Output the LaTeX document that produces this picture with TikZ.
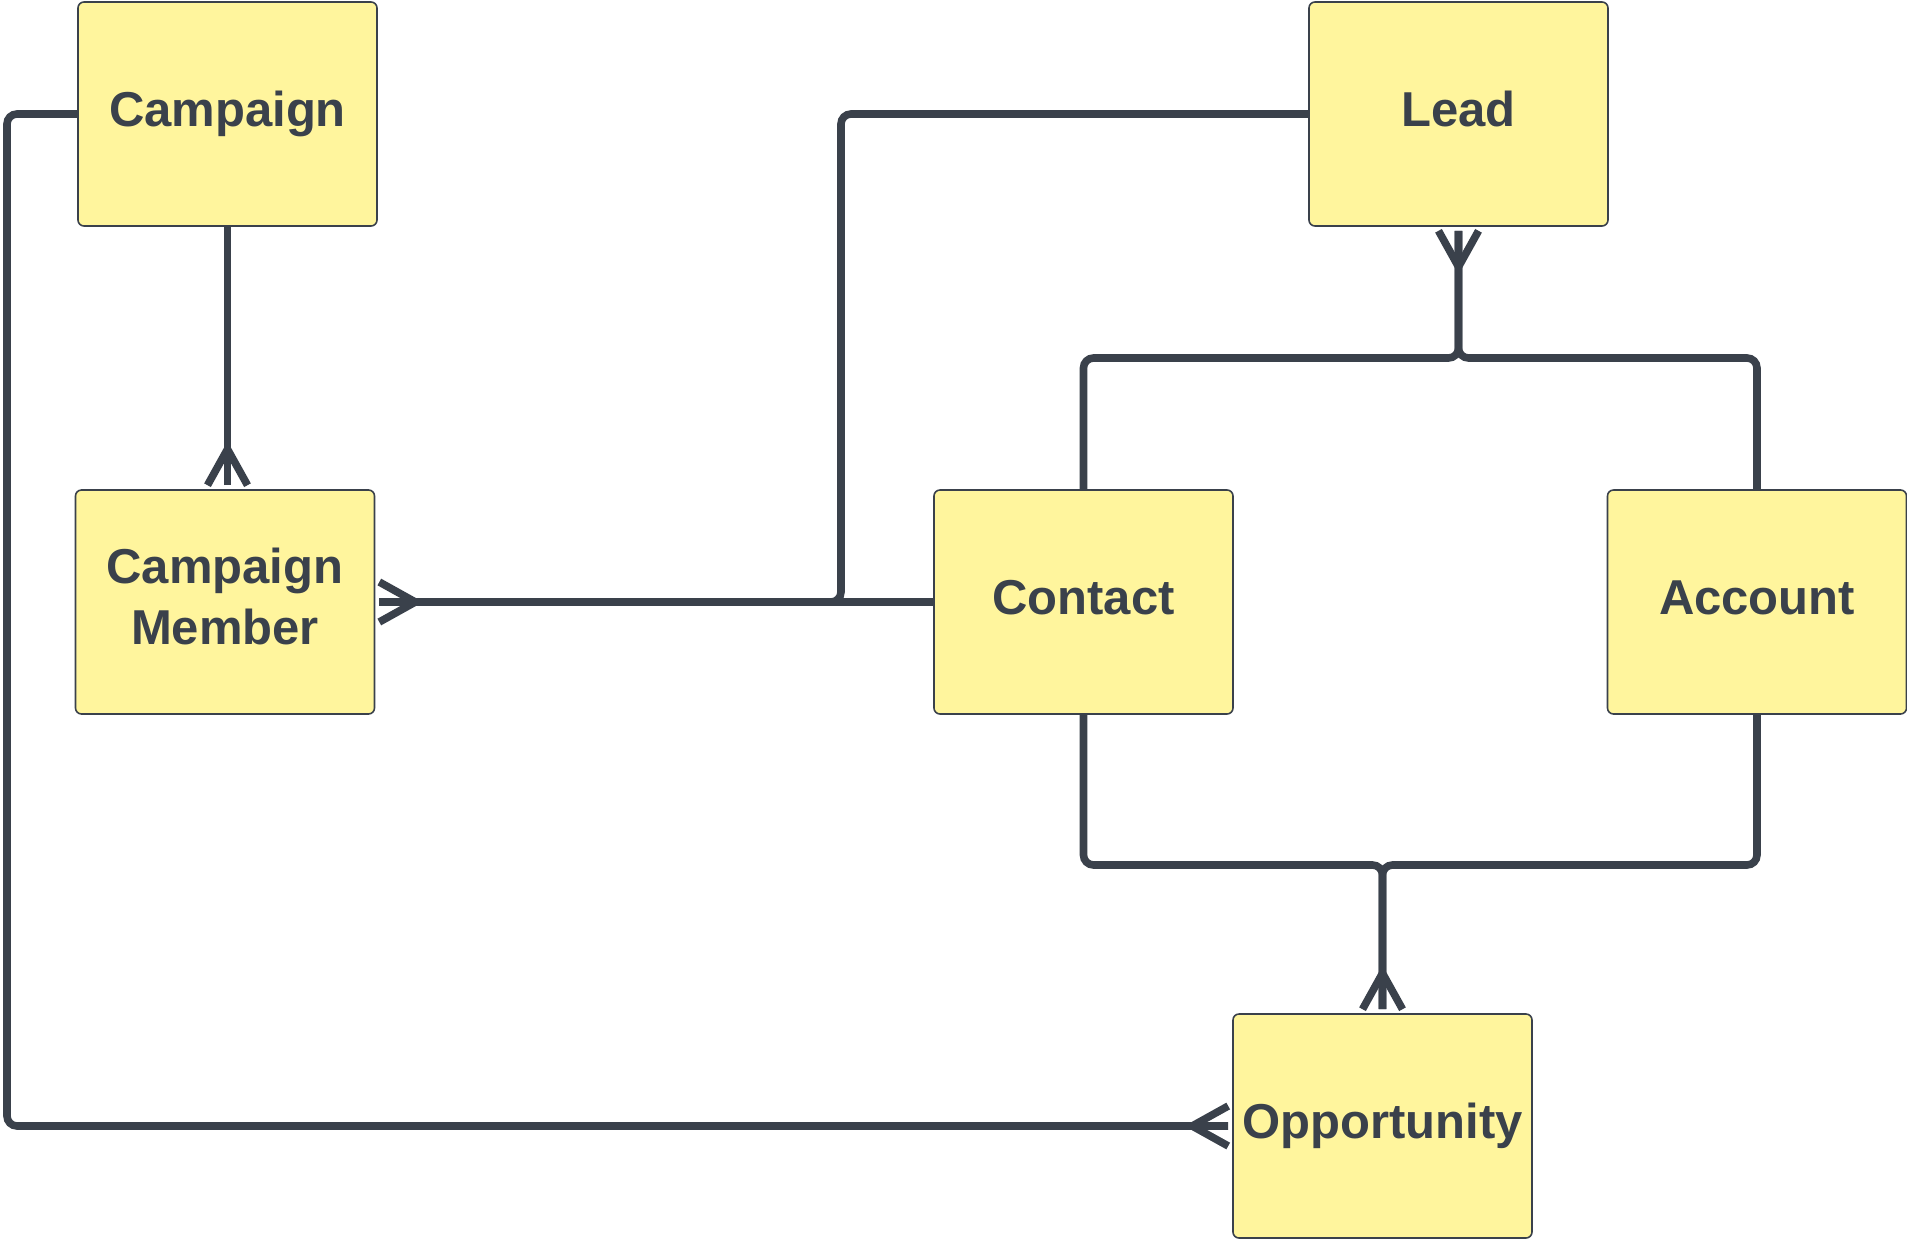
\documentclass[tikz,border=0pt]{standalone}
\usepackage{fontspec}
\setmainfont{Liberation Sans}
\usetikzlibrary{calc}
\definecolor{ink}{HTML}{3A414B}
\definecolor{boxfill}{HTML}{FFF59D}
\tikzset{
  entity/.style={draw=ink, line width=0.8pt, fill=boxfill, rounded corners=3pt,
    minimum width=149.5pt, minimum height=112pt, inner sep=0pt,
    text=ink, font=\fontsize{24.5}{30.5}\selectfont\bfseries},
  oneline/.style={text height=18pt, text depth=5.5pt},
  conn/.style={draw=ink, line width=3.8pt, rounded corners=5pt, line cap=butt},
}
\newcommand\crowfoot[3]{%
  \draw[conn, rounded corners=0pt, line join=miter]
    ($(#1)+({(#2)*4-(#3)*20},{(#3)*4+(#2)*20})$) --
    ($(#1)+({(#2)*40},{(#3)*40})$) --
    ($(#1)+({(#2)*4+(#3)*20},{(#3)*4-(#2)*20})$);
  \draw[conn] ($(#1)+({(#2)*4},{(#3)*4})$) -- ($(#1)+({(#2)*40},{(#3)*40})$);
}
\begin{document}
\begin{tikzpicture}[x=0.5pt, y=-0.5pt]
\useasboundingbox (0,0) rectangle (1907,1239);
\node[entity, oneline] (camp) at (227.5,114) {Campaign};
\node[entity, oneline] (lead) at (1458.5,114) {Lead};
\node[entity] (cm) at (225,602) {\raisebox{6.7pt}{\begin{tabular}{@{}c@{}}Campaign\\Member\end{tabular}}};
\node[entity, oneline] (contact) at (1083.5,602) {Contact};
\node[entity, oneline] (account) at (1757,602) {Account};
\node[entity, oneline] (opp) at (1382.5,1126) {Opportunity};

\coordinate (c1) at (7,114);
\coordinate (c2) at (7,1126);
\coordinate (cmtop) at (camp.south |- cm.north);
\coordinate (l1) at (841,114);
\coordinate (l2) at (841,602);
\coordinate (s1) at (1458.5,358);
\coordinate (s2) at (1083.5,358);
\coordinate (s3) at (1757,358);
\coordinate (o1) at (1083.5,865);
\coordinate (o2) at (1382.5,865);
\coordinate (o3) at (1757,865);

\draw[conn, shorten >=2pt] (camp.west) -- (c1) -- (c2) -- (opp.west);
\draw[conn, shorten >=2pt] (camp.south) -- (cmtop);
\draw[conn, shorten >=2pt] (lead.west) -- (l1) -- (l2) -- (cm.east);
\draw[conn, shorten >=2pt] (contact.west) -- (cm.east);
\draw[conn, shorten <=2pt] (lead.south) -- (s1) -- (s2) -- (contact.north);
\draw[conn, shorten <=2pt] (lead.south) -- (s1) -- (s3) -- (account.north);
\draw[conn, shorten >=2pt] (contact.south) -- (o1) -- (o2) -- (opp.north);
\draw[conn, shorten >=2pt] (account.south) -- (o3) -- (o2) -- (opp.north);

\crowfoot{cmtop}{0}{-1}
\crowfoot{cm.east}{1}{0}
\crowfoot{lead.south}{0}{1}
\crowfoot{opp.north}{0}{-1}
\crowfoot{opp.west}{-1}{0}
\end{tikzpicture}
\end{document}
